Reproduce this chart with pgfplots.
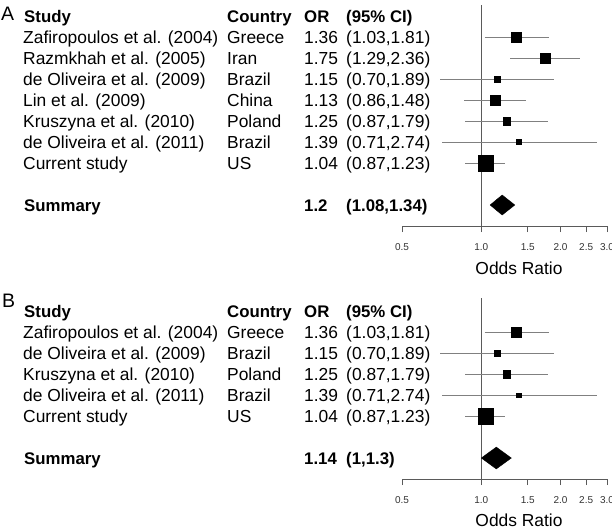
\documentclass[border=0pt]{standalone}
\usepackage{pgfplots}
\pgfplotsset{compat=1.18}
\usepackage{pgfplotstable}
\usepackage{fontspec}
\setmainfont{Liberation Sans}
\definecolor{cil}{HTML}{808080}
\definecolor{axl}{HTML}{5A5A5A}
\newcommand\bfs{\fontsize{16.8}{20}\selectfont\bfseries}
\newcommand\rowtxt[5]{%
  \node[anchor=base west,inner sep=0pt] at (23pt,-#1pt) {#2};
  \node[anchor=base west,inner sep=0pt] at (227pt,-#1pt) {#3};
  \node[anchor=base west,inner sep=0pt] at (304pt,-#1pt) {#4};
  \node[anchor=base west,inner sep=0pt] at (346pt,-#1pt) {#5};}
\pgfplotstableread{
row or lo hi s
9 1.36 1.03 1.81 4.8
8 1.75 1.29 2.36 4.8
7 1.15 0.70 1.89 2.8
6 1.13 0.86 1.48 4.8
5 1.25 0.87 1.79 3.8
4 1.39 0.71 2.74 2.3
3 1.04 0.87 1.23 7.8
}\dataA
\pgfplotstableread{
row or lo hi s
7 1.36 1.03 1.81 4.8
6 1.15 0.70 1.89 2.8
5 1.25 0.87 1.79 3.8
4 1.39 0.71 2.74 2.3
3 1.04 0.87 1.23 7.8
}\dataB
\begin{document}
\begin{tikzpicture}
\useasboundingbox (0pt,0pt) rectangle (612pt,-531pt);
\fontsize{17.4}{20}\selectfont
% ---------------- Panel A
\begin{axis}[at={(402pt,-226pt)}, height=221pt, ymax=10.52,
  scale only axis, anchor=south west, width=205pt,
  xmode=log, xmin=0.5, xmax=3, ymin=0,
  axis line style={draw=none},
  ytick=\empty, xtick pos=left,
  xtick={0.5,1,1.5,2,2.5,3}, xticklabels={0.5,1.0,1.5,2.0,2.5,3.0},
  minor xtick={},
  tick align=outside, major tick length=6pt,
  tick style={axl, line width=0.6pt},
  xticklabel style={anchor=base, yshift=-18pt, inner sep=0pt, font=\fontsize{10}{11}\selectfont, text=black!80},
  clip=false]
\addplot[axl, line width=0.6pt] coordinates {(0.5,0) (3,0)};
\addplot[axl, line width=0.6pt] coordinates {(1,0) (1,10.52)};
\addplot[cil, line width=0.6pt] coordinates {(1.03,9) (1.81,9)};
\addplot[cil, line width=0.6pt] coordinates {(1.29,8) (2.36,8)};
\addplot[cil, line width=0.6pt] coordinates {(0.70,7) (1.89,7)};
\addplot[cil, line width=0.6pt] coordinates {(0.86,6) (1.48,6)};
\addplot[cil, line width=0.6pt] coordinates {(0.87,5) (1.79,5)};
\addplot[cil, line width=0.6pt] coordinates {(0.71,4) (2.74,4)};
\addplot[cil, line width=0.6pt] coordinates {(0.87,3) (1.23,3)};
\addplot[scatter, only marks, mark=square*,
  scatter/use mapped color={draw=black, fill=black},
  visualization depends on={\thisrow{s} \as \ms},
  scatter/@pre marker code/.append style={/tikz/mark size=\ms}]
  table[x=or, y=row] {\dataA};
\addplot[fill=black, draw=black] coordinates {(1.08,1) (1.2,1.476) (1.34,1) (1.2,0.524) (1.08,1)};
\end{axis}
\node[anchor=base west,inner sep=0pt,font=\fontsize{19.5}{22}\selectfont] at (1pt,-20.5pt) {A};
\node[anchor=base west,inner sep=0pt,font=\bfs] at (24pt,-22pt) {Study};
\node[anchor=base west,inner sep=0pt,font=\bfs] at (227pt,-22pt) {Country};
\node[anchor=base west,inner sep=0pt,font=\bfs] at (304pt,-22pt) {OR};
\node[anchor=base west,inner sep=0pt,font=\bfs] at (346pt,-22pt) {(95\% CI)};
\rowtxt{43}{Zafiropoulos et al. (2004)}{Greece}{1.36}{(1.03,1.81)}
\rowtxt{64}{Razmkhah et al. (2005)}{Iran}{1.75}{(1.29,2.36)}
\rowtxt{85}{de Oliveira et al. (2009)}{Brazil}{1.15}{(0.70,1.89)}
\rowtxt{106}{Lin et al. (2009)}{China}{1.13}{(0.86,1.48)}
\rowtxt{127}{Kruszyna et al. (2010)}{Poland}{1.25}{(0.87,1.79)}
\rowtxt{148}{de Oliveira et al. (2011)}{Brazil}{1.39}{(0.71,2.74)}
\rowtxt{169}{Current study}{US}{1.04}{(0.87,1.23)}
\node[anchor=base west,inner sep=0pt,font=\bfs] at (24pt,-211pt) {Summary};
\node[anchor=base west,inner sep=0pt,font=\bfs] at (304pt,-211pt) {1.2};
\node[anchor=base west,inner sep=0pt,font=\bfs] at (346pt,-211pt) {(1.08,1.34)};
\node[anchor=base,inner sep=0pt] at (519pt,-274pt) {Odds Ratio};
% ---------------- Panel B
\begin{axis}[at={(402pt,-479pt)}, height=181pt, ymax=8.62,
  scale only axis, anchor=south west, width=205pt,
  xmode=log, xmin=0.5, xmax=3, ymin=0,
  axis line style={draw=none},
  ytick=\empty, xtick pos=left,
  xtick={0.5,1,1.5,2,2.5,3}, xticklabels={0.5,1.0,1.5,2.0,2.5,3.0},
  minor xtick={},
  tick align=outside, major tick length=6pt,
  tick style={axl, line width=0.6pt},
  xticklabel style={anchor=base, yshift=-18pt, inner sep=0pt, font=\fontsize{10}{11}\selectfont, text=black!80},
  clip=false]
\addplot[axl, line width=0.6pt] coordinates {(0.5,0) (3,0)};
\addplot[axl, line width=0.6pt] coordinates {(1,0) (1,8.62)};
\addplot[cil, line width=0.6pt] coordinates {(1.03,7) (1.81,7)};
\addplot[cil, line width=0.6pt] coordinates {(0.70,6) (1.89,6)};
\addplot[cil, line width=0.6pt] coordinates {(0.87,5) (1.79,5)};
\addplot[cil, line width=0.6pt] coordinates {(0.71,4) (2.74,4)};
\addplot[cil, line width=0.6pt] coordinates {(0.87,3) (1.23,3)};
\addplot[scatter, only marks, mark=square*,
  scatter/use mapped color={draw=black, fill=black},
  visualization depends on={\thisrow{s} \as \ms},
  scatter/@pre marker code/.append style={/tikz/mark size=\ms}]
  table[x=or, y=row] {\dataB};
\addplot[fill=black, draw=black] coordinates {(1.0,1) (1.14,1.52) (1.3,1) (1.14,0.48) (1.0,1)};
\end{axis}
\node[anchor=base west,inner sep=0pt,font=\fontsize{19.5}{22}\selectfont] at (2pt,-307pt) {B};
\node[anchor=base west,inner sep=0pt,font=\bfs] at (24pt,-317pt) {Study};
\node[anchor=base west,inner sep=0pt,font=\bfs] at (227pt,-317pt) {Country};
\node[anchor=base west,inner sep=0pt,font=\bfs] at (304pt,-317pt) {OR};
\node[anchor=base west,inner sep=0pt,font=\bfs] at (346pt,-317pt) {(95\% CI)};
\rowtxt{338}{Zafiropoulos et al. (2004)}{Greece}{1.36}{(1.03,1.81)}
\rowtxt{359}{de Oliveira et al. (2009)}{Brazil}{1.15}{(0.70,1.89)}
\rowtxt{380}{Kruszyna et al. (2010)}{Poland}{1.25}{(0.87,1.79)}
\rowtxt{401}{de Oliveira et al. (2011)}{Brazil}{1.39}{(0.71,2.74)}
\rowtxt{422}{Current study}{US}{1.04}{(0.87,1.23)}
\node[anchor=base west,inner sep=0pt,font=\bfs] at (24pt,-464pt) {Summary};
\node[anchor=base west,inner sep=0pt,font=\bfs] at (304pt,-464pt) {1.14};
\node[anchor=base west,inner sep=0pt,font=\bfs] at (346pt,-464pt) {(1,1.3)};
\node[anchor=base,inner sep=0pt] at (519pt,-526pt) {Odds Ratio};
\end{tikzpicture}
\end{document}
